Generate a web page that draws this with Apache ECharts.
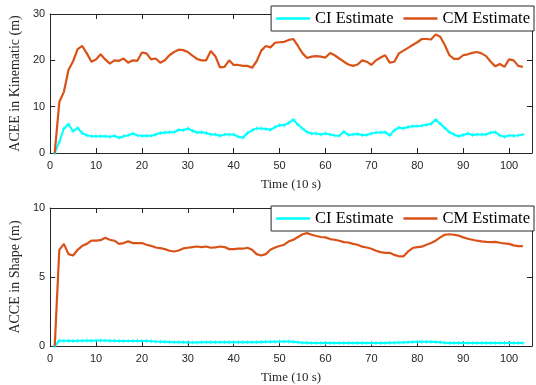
<!DOCTYPE html>
<html>
<head>
<meta charset="utf-8">
<script src="https://cdn.jsdelivr.net/npm/echarts@6/dist/echarts.min.js"></script>
<style>
  html, body { margin: 0; padding: 0; background: #fff; }
  #chart { width: 536px; height: 385px; }
</style>
</head>
<body>
<div id="chart"></div>
<script>
// time index (10 s steps)
const timeSteps = Array.from({ length: 103 }, (_, i) => i + 1);

const ciKinematic = [
  0, 2.4, 5.3, 6.2, 4.7, 5.4, 4.3, 3.8, 3.6, 3.6,
  3.6, 3.6, 3.5, 3.7, 3.3, 3.6, 3.8, 4.2, 3.8, 3.7,
  3.7, 3.7, 4.0, 4.3, 4.4, 4.5, 4.5, 5.0, 4.9, 5.3,
  4.8, 4.4, 4.5, 4.3, 4.0, 4.0, 3.7, 4.0, 4.0, 4.0,
  3.5, 3.3, 4.3, 4.9, 5.3, 5.3, 5.2, 5.0, 5.6, 6.0,
  6.0, 6.5, 7.2, 6.1, 5.3, 4.5, 4.2, 4.2, 4.0, 4.2,
  4.0, 3.8, 3.7, 4.6, 3.9, 4.0, 4.1, 3.9, 3.9, 4.2,
  4.4, 4.4, 4.5, 3.8, 4.9, 5.5, 5.3, 5.6, 5.8, 5.8,
  5.9, 6.1, 6.3, 7.2, 6.3, 5.4, 4.5, 4.0, 3.6, 3.9,
  4.2, 3.9, 4.0, 4.0, 4.0, 4.4, 4.5, 3.8, 3.5, 3.8,
  3.7, 3.8, 4.0
];

const cmKinematic = [
  0, 11.0, 13.2, 17.9, 19.8, 22.4, 23.1, 21.5, 19.7, 20.2,
  21.3, 20.2, 19.3, 20.0, 19.9, 20.4, 19.5, 20.0, 19.9, 21.7,
  21.5, 20.2, 20.4, 19.5, 20.0, 21.1, 21.8, 22.3, 22.2, 21.8,
  21.0, 20.3, 20.0, 20.0, 22.0, 20.9, 18.5, 18.6, 20.0, 19.0,
  19.0, 18.8, 18.8, 18.4, 19.8, 22.1, 23.1, 22.8, 23.8, 23.9,
  24.0, 24.4, 24.6, 23.1, 21.5, 20.5, 20.8, 20.9, 20.8, 20.6,
  21.6, 21.1, 20.4, 19.7, 19.1, 18.8, 19.1, 20.0, 19.7, 19.0,
  20.0, 20.6, 21.1, 19.5, 19.7, 21.5, 22.1, 22.7, 23.3, 23.9,
  24.6, 24.6, 24.5, 25.6, 25.1, 23.3, 21.1, 20.3, 20.3, 21.1,
  21.3, 21.6, 21.8, 21.5, 20.9, 19.7, 18.7, 19.2, 18.6, 20.2,
  20.0, 18.8, 18.6
];

const ciShape = [
  0, 0.38, 0.38, 0.38, 0.37, 0.38, 0.38, 0.39, 0.38, 0.39,
  0.39, 0.39, 0.38, 0.38, 0.37, 0.37, 0.37, 0.37, 0.37, 0.36,
  0.36, 0.35, 0.32, 0.30, 0.30, 0.29, 0.28, 0.28, 0.27, 0.26,
  0.26, 0.26, 0.27, 0.28, 0.28, 0.28, 0.28, 0.28, 0.27, 0.27,
  0.27, 0.27, 0.28, 0.28, 0.28, 0.29, 0.30, 0.31, 0.31, 0.32,
  0.33, 0.32, 0.31, 0.27, 0.24, 0.23, 0.22, 0.22, 0.22, 0.22,
  0.22, 0.22, 0.22, 0.22, 0.22, 0.22, 0.22, 0.22, 0.22, 0.22,
  0.22, 0.22, 0.22, 0.23, 0.24, 0.25, 0.26, 0.28, 0.29, 0.30,
  0.30, 0.30, 0.30, 0.29, 0.27, 0.24, 0.22, 0.21, 0.21, 0.21,
  0.21, 0.21, 0.21, 0.21, 0.21, 0.21, 0.21, 0.21, 0.21, 0.21,
  0.21, 0.21, 0.21
];

const cmShape = [
  0, 6.97, 7.4, 6.66, 6.56, 6.97, 7.26, 7.4, 7.63, 7.63,
  7.67, 7.84, 7.7, 7.63, 7.4, 7.46, 7.58, 7.46, 7.46, 7.46,
  7.34, 7.26, 7.14, 7.09, 7.02, 6.9, 6.85, 6.92, 7.07, 7.12,
  7.17, 7.21, 7.17, 7.21, 7.12, 7.14, 7.21, 7.17, 7.02, 7.02,
  7.05, 7.05, 7.12, 6.97, 6.66, 6.56, 6.66, 6.97, 7.14, 7.25,
  7.34, 7.58, 7.7, 7.9, 8.1, 8.18, 8.06, 7.97, 7.9, 7.87,
  7.75, 7.7, 7.63, 7.53, 7.5, 7.4, 7.34, 7.2, 7.14, 7.05,
  6.9, 6.8, 6.75, 6.75, 6.6, 6.5, 6.5, 6.85, 7.1, 7.17,
  7.2, 7.34, 7.46, 7.63, 7.87, 8.06, 8.1, 8.06, 8.0, 7.87,
  7.77, 7.7, 7.63, 7.58, 7.55, 7.53, 7.55, 7.48, 7.43, 7.4,
  7.29, 7.24, 7.24
];

const seriesNames = ['CI Estimate', 'CM Estimate'];
const xTicks = { min: 0, max: 105, interval: 10 };

const AXIS_COLOR = '#262626';
const CI_COLOR = '#00ffff';
const CM_COLOR = '#d95319';
const SERIF = '"Liberation Serif", "DejaVu Serif", serif';
const SANS = '"Liberation Sans", Arial, sans-serif';
const PLUS = 'path://M2,0H3V2H5V3H3V5H2V3H0V2H2Z';

const pair = (ys) => timeSteps.map((t, i) => [t, ys[i]]);

// bottom x axis with labels + mirrored top axis (box)
function xAxes(gridIndex) {
  return [
    {
      gridIndex, type: 'value', min: xTicks.min, max: xTicks.max, interval: xTicks.interval,
      name: 'Time (10 s)', nameLocation: 'middle', nameGap: 25,
      nameTextStyle: { fontFamily: SERIF, fontSize: 13, color: AXIS_COLOR },
      axisLine: { show: true, onZero: false, lineStyle: { color: AXIS_COLOR, width: 1 } },
      axisTick: { show: true, inside: true, length: 5, lineStyle: { color: AXIS_COLOR } },
      axisLabel: { fontFamily: SANS, fontSize: 11, color: AXIS_COLOR, margin: 7, showMaxLabel: false },
      splitLine: { show: false }
    },
    {
      gridIndex, type: 'value', position: 'top', min: xTicks.min, max: xTicks.max, interval: xTicks.interval,
      axisLine: { show: true, onZero: false, lineStyle: { color: AXIS_COLOR, width: 1 } },
      axisTick: { show: true, inside: true, length: 5, lineStyle: { color: AXIS_COLOR } },
      axisLabel: { show: false },
      splitLine: { show: false }
    }
  ];
}

function yAxes(gridIndex, max, interval, name) {
  return [
    {
      gridIndex, type: 'value', min: 0, max, interval,
      name, nameLocation: 'middle', nameGap: 26,
      nameTextStyle: { fontFamily: SERIF, fontSize: 14, color: AXIS_COLOR },
      axisLine: { show: true, onZero: false, lineStyle: { color: AXIS_COLOR, width: 1 } },
      axisTick: { show: true, inside: true, length: 5, lineStyle: { color: AXIS_COLOR } },
      axisLabel: { fontFamily: SANS, fontSize: 11, color: AXIS_COLOR, margin: 5 },
      splitLine: { show: false }
    },
    {
      gridIndex, type: 'value', position: 'right', min: 0, max, interval,
      axisLine: { show: true, onZero: false, lineStyle: { color: AXIS_COLOR, width: 1 } },
      axisTick: { show: true, inside: true, length: 5, lineStyle: { color: AXIS_COLOR } },
      axisLabel: { show: false },
      splitLine: { show: false }
    }
  ];
}

function legend(top) {
  return {
    data: seriesNames.map((name) => ({ name, icon: 'rect' })),
    right: 2, top,
    orient: 'horizontal',
    itemWidth: 34, itemHeight: 2.5, itemGap: 10,
    padding: [4, 4, 4, 5],
    backgroundColor: '#fff',
    borderColor: AXIS_COLOR, borderWidth: 1, borderRadius: 0,
    textStyle: { fontFamily: SERIF, fontSize: 16.5, color: '#000' }
  };
}

function ciSeries(x, y, data) {
  return {
    name: seriesNames[0], type: 'line', xAxisIndex: x, yAxisIndex: y, data,
    symbol: PLUS, symbolSize: 4, showSymbol: true,
    lineStyle: { color: CI_COLOR, width: 2 },
    itemStyle: { color: CI_COLOR },
    z: 3
  };
}

function cmSeries(x, y, data) {
  return {
    name: seriesNames[1], type: 'line', xAxisIndex: x, yAxisIndex: y, data,
    symbol: 'none',
    lineStyle: { color: CM_COLOR, width: 2.2 },
    itemStyle: { color: CM_COLOR },
    z: 4
  };
}

const chart = echarts.init(document.getElementById('chart'), null, { renderer: 'canvas' });

chart.setOption({
  animation: false,
  backgroundColor: '#fff',
  grid: [
    { left: 41, right: 4, top: 14, height: 139 },
    { left: 41, right: 4, top: 208, height: 138 }
  ],
  xAxis: [...xAxes(0), ...xAxes(1)],
  yAxis: [
    ...yAxes(0, 30, 10, 'ACEE in Kinematic (m)'),
    ...yAxes(1, 10, 5, 'ACCE in Shape (m)')
  ],
  legend: [legend(6), legend(206)],
  series: [
    ciSeries(0, 0, pair(ciKinematic)),
    cmSeries(0, 0, pair(cmKinematic)),
    ciSeries(2, 2, pair(ciShape)),
    cmSeries(2, 2, pair(cmShape))
  ]
});
</script>
</body>
</html>
